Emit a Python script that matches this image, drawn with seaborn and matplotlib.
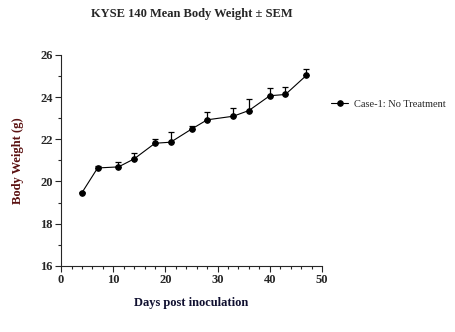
import matplotlib
matplotlib.use("Agg")
import matplotlib.pyplot as plt
import seaborn as sns
import pandas as pd
import numpy as np
from matplotlib.ticker import MultipleLocator

days = [4, 7, 11, 14, 18, 21, 25, 28, 33, 36, 40, 43, 47]
weight = [19.47, 20.64, 20.69, 21.07, 21.81, 21.86, 22.48, 22.92, 23.09, 23.36, 24.06, 24.12, 25.02]
sem = [0.05, 0.10, 0.22, 0.27, 0.19, 0.47, 0.16, 0.38, 0.38, 0.54, 0.36, 0.35, 0.30]
series_name = "Case-1: No Treatment"

sns.set_style("ticks")
plt.rcParams['font.family'] = ['Liberation Serif', 'DejaVu Serif']

df = pd.DataFrame({"Days": days, "Weight": weight, "SEM": sem, "Group": series_name})

fig = plt.figure(figsize=(4.56, 3.32), dpi=100)
ax = fig.add_axes([0.134, 0.199, 0.572, 0.636])

ax.errorbar(df["Days"], df["Weight"], yerr=[np.zeros(len(sem)), df["SEM"]],
            fmt="none", ecolor="black", elinewidth=0.9, capsize=2.5, capthick=0.9, zorder=2)
sns.lineplot(data=df, x="Days", y="Weight", hue="Group", palette=["black"],
             marker="o", markersize=4, linewidth=0.8, ax=ax, zorder=3,
             markeredgecolor="black")

ax.set_xlim(0, 50)
ax.set_ylim(16, 26)
ax.xaxis.set_major_locator(MultipleLocator(10))
ax.xaxis.set_minor_locator(MultipleLocator(2))
ax.yaxis.set_major_locator(MultipleLocator(2))
ax.yaxis.set_minor_locator(MultipleLocator(1))
ax.tick_params(which="major", length=4, width=0.8, labelsize=9, direction="out", pad=2)
ax.tick_params(which="minor", length=2, width=0.8, direction="out")
for lbl in ax.get_xticklabels() + ax.get_yticklabels():
    lbl.set_fontweight("bold")

sns.despine(ax=ax)
for s in ["left", "bottom"]:
    ax.spines[s].set_linewidth(0.8)

ax.set_xlabel("Days post inoculation", fontsize=9, fontweight="bold", color="#101030", labelpad=8)
ax.set_ylabel("Body Weight (g)", fontsize=9, fontweight="bold", color="#5a1010", labelpad=12)
fig.suptitle("KYSE 140 Mean Body Weight ± SEM", fontsize=9, fontweight="bold", x=0.42, y=0.975)

leg = ax.legend(loc="center left", bbox_to_anchor=(1.0, 0.765), frameon=False,
                fontsize=7.5, handlelength=1.6, handletextpad=0.6)

fig.savefig("out.png", dpi=100)
